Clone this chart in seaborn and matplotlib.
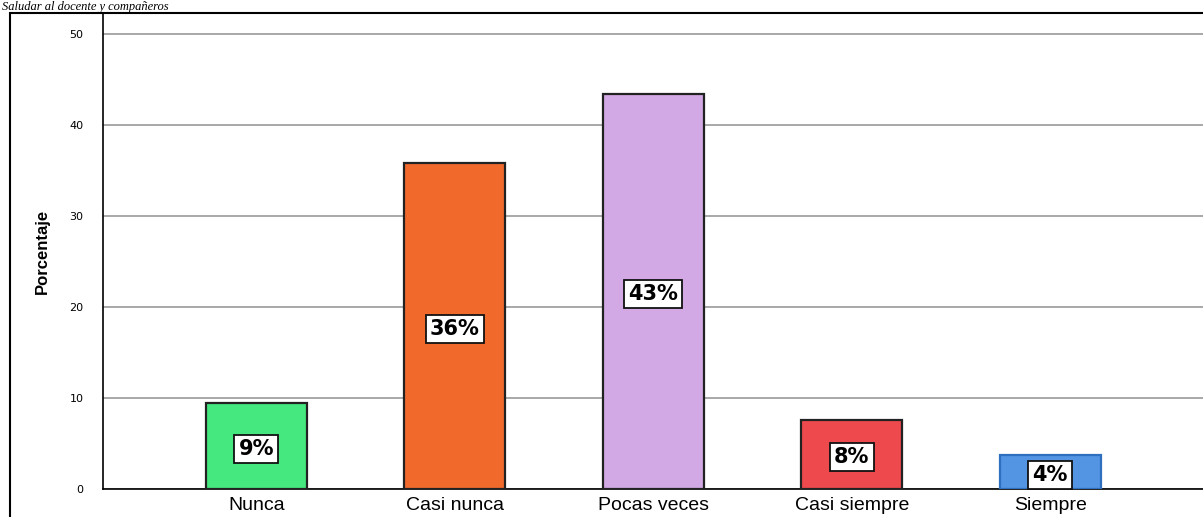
import numpy as np
import pandas as pd
import matplotlib
matplotlib.use("Agg")
import matplotlib.pyplot as plt
import seaborn as sns
from matplotlib.patches import Rectangle

# data
categorias = ["Nunca", "Casi nunca", "Pocas veces", "Casi siempre", "Siempre"]
porcentajes = [9.45, 35.8, 43.4, 7.6, 3.7]
etiquetas = ["9%", "36%", "43%", "8%", "4%"]
colores = ["#44E87F", "#F26A2B", "#D2A9E4", "#EE4A4E", "#5394E3"]
bordes = ["#222222", "#222222", "#222222", "#222222", "#2F6FC0"]
titulo = "Saludar al docente y compañeros"

sns.set_style("white")
plt.rcParams["font.family"] = ["Liberation Sans", "DejaVu Sans"]
plt.rcParams["text.color"] = "black"
plt.rcParams["xtick.color"] = "black"
plt.rcParams["ytick.color"] = "black"
plt.rcParams["axes.labelcolor"] = "black"

df = pd.DataFrame({"categoria": categorias, "porcentaje": porcentajes})

W, H = 1203, 517
fig = plt.figure(figsize=(W / 100, H / 100), dpi=100)
ax = fig.add_axes([103 / W, (H - 489) / H, (W - 103) / W, (489 - 13) / H])

sns.barplot(data=df, x="categoria", y="porcentaje", hue="categoria",
            palette=colores, saturation=1, legend=False, width=0.51,
            ax=ax, zorder=3)

for p, ec in zip(ax.patches, bordes):
    p.set_edgecolor(ec)
    p.set_linewidth(1.6)

# boxed percentage labels, Verdana-like bold
for i, (v, t) in enumerate(zip(porcentajes, etiquetas)):
    ax.text(i, v / 2 - 0.3, t, ha="center", va="center", fontsize=15,
            fontweight="bold", color="black", family="DejaVu Sans", zorder=5,
            bbox=dict(boxstyle="square,pad=0.2", facecolor="white",
                      edgecolor="#111111", linewidth=1.3))

ax.set_xlim(-0.773, 4.77)
ax.set_ylim(0, 52.3)
ax.set_yticks([0, 10, 20, 30, 40, 50])
ax.yaxis.grid(True, color="#A8A8A8", linewidth=1.4, zorder=0)
ax.set_axisbelow(True)

for s in ["top", "right"]:
    ax.spines[s].set_visible(False)
for s in ["left", "bottom"]:
    ax.spines[s].set_color("black")
    ax.spines[s].set_linewidth(1.2)

ax.tick_params(axis="x", length=0, pad=6, labelsize=14)
ax.tick_params(axis="y", length=0, pad=14, labelsize=8)
for lab in ax.get_yticklabels():
    lab.set_family("DejaVu Sans")
ax.set_xlabel("")
ax.set_ylabel("Porcentaje", fontsize=12, fontweight="bold", labelpad=14)

# outer frame and caption above it
fig.add_artist(Rectangle((10 / W, -0.05), 1.2, (H - 13) / H + 0.05,
                         transform=fig.transFigure, fill=False,
                         edgecolor="black", linewidth=1.5, clip_on=False))
fig.text(0.002, 1 - 10 / H, titulo, ha="left", va="baseline", fontsize=9,
         style="italic", family=["Liberation Serif", "DejaVu Serif"])

fig.savefig("out.png", dpi=100)
